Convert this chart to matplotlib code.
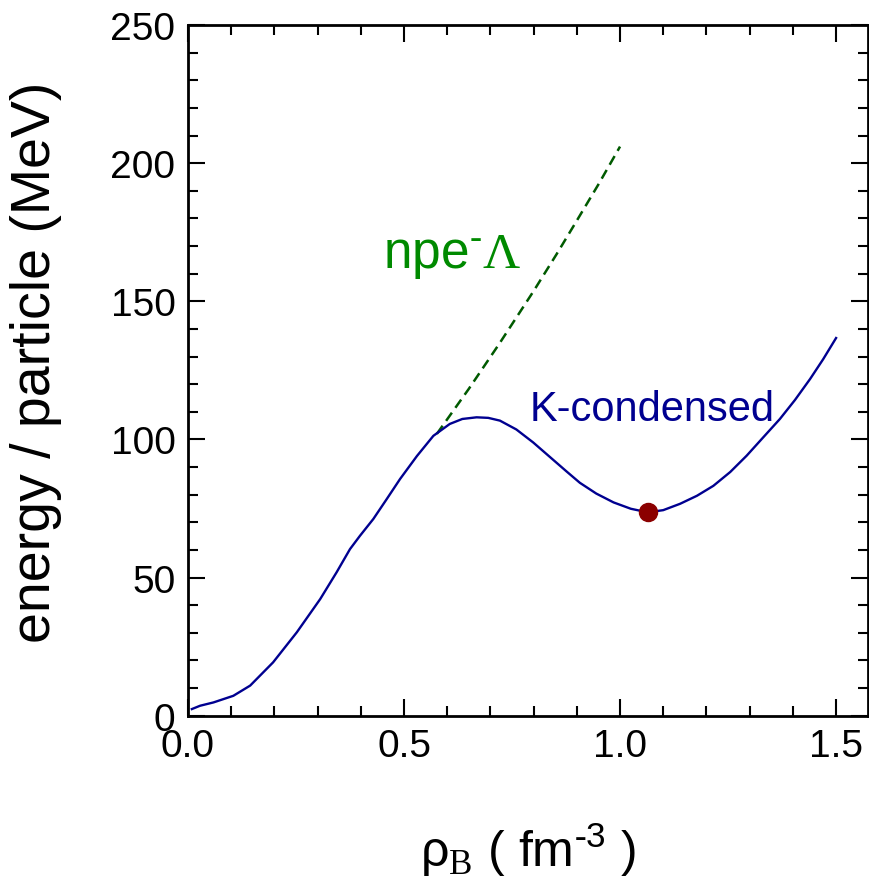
import matplotlib
matplotlib.use("Agg")
import matplotlib.pyplot as plt
from matplotlib.ticker import MultipleLocator

plt.rcParams['font.family'] = ['Liberation Sans', 'DejaVu Sans']
plt.rcParams['mathtext.fontset'] = 'custom'
plt.rcParams['mathtext.rm'] = 'Liberation Serif'
plt.rcParams['mathtext.sf'] = 'Liberation Sans'
plt.rcParams['mathtext.it'] = 'Liberation Sans:italic'

# kaon-condensed branch
rho_k = [0.009, 0.028, 0.059, 0.105, 0.144, 0.197, 0.252, 0.306, 0.344, 0.375,
         0.398, 0.429, 0.460, 0.491, 0.530, 0.568, 0.606, 0.635, 0.668, 0.695,
         0.722, 0.760, 0.799, 0.838, 0.877, 0.907, 0.945, 0.985, 1.025, 1.064,
         1.100, 1.139, 1.178, 1.216, 1.255, 1.293, 1.330, 1.370, 1.405, 1.440,
         1.470, 1.500]
e_k = [2.4, 3.6, 4.8, 7.2, 10.9, 19.3, 30.2, 42.2, 51.9, 60.3,
       65.1, 71.2, 78.4, 85.7, 94.0, 101.3, 105.6, 107.4, 108.0, 107.8,
       106.8, 103.6, 98.9, 93.6, 88.3, 84.3, 80.4, 77.2, 74.9, 73.6,
       74.4, 76.7, 79.6, 83.2, 88.2, 94.1, 100.5, 107.4, 114.3, 121.9,
       129.0, 136.7]

# npe-Lambda branch
rho_l = [0.576, 0.65, 0.72, 0.80, 0.853, 0.90, 0.95, 1.0]
e_l = [102.0, 118.3, 134.5, 153.7, 167.0, 179.2, 192.3, 206.0]

# energy minimum
rho_min = [1.064]
e_min = [73.6]

fig = plt.figure(figsize=(8.69, 8.87), dpi=100)
ax = fig.add_axes([0.2163, 0.192, 0.7826, 0.7787])

ax.plot(rho_l, e_l, color='#005a00', linestyle=(0, (4, 2.4)), linewidth=1.8)
ax.plot(rho_k, e_k, color='#000090', linewidth=1.7)
ax.plot(rho_min, e_min, 'o', color='#8b0000', markersize=13, zorder=5)

ax.text(0.451, 162.4, r'npe$^{\text{-}}$$\mathrm{\Lambda}$', color='#008a00',
        fontsize=37, ha='left', va='baseline')
ax.text(0.790, 107.1, 'K-condensed', color='#000090', fontsize=30,
        ha='left', va='baseline')

ax.set_xlim(0, 1.574)
ax.set_ylim(0, 250)
ax.xaxis.set_major_locator(MultipleLocator(0.5))
ax.xaxis.set_minor_locator(MultipleLocator(0.1))
ax.yaxis.set_major_locator(MultipleLocator(50))
ax.yaxis.set_minor_locator(MultipleLocator(10))
ax.xaxis.set_major_formatter(plt.FuncFormatter(lambda v, p: f'{v:.1f}'))

ax.tick_params(which='both', direction='in', top=True, right=True,
               labelsize=28, width=1.5)
ax.tick_params(which='major', length=12, pad=9)
ax.tick_params(which='minor', length=7)
for s in ax.spines.values():
    s.set_linewidth(2)

ax.set_xlabel(r'ρ$_{\mathrm{B}}$ ( fm$^{\text{-}\mathsf{3}}$ )', fontsize=36, labelpad=40)
ax.set_ylabel('energy / particle (MeV)', fontsize=40)
ax.yaxis.set_label_coords(-0.185, 0.513)

fig.savefig('out.png', dpi=100)
